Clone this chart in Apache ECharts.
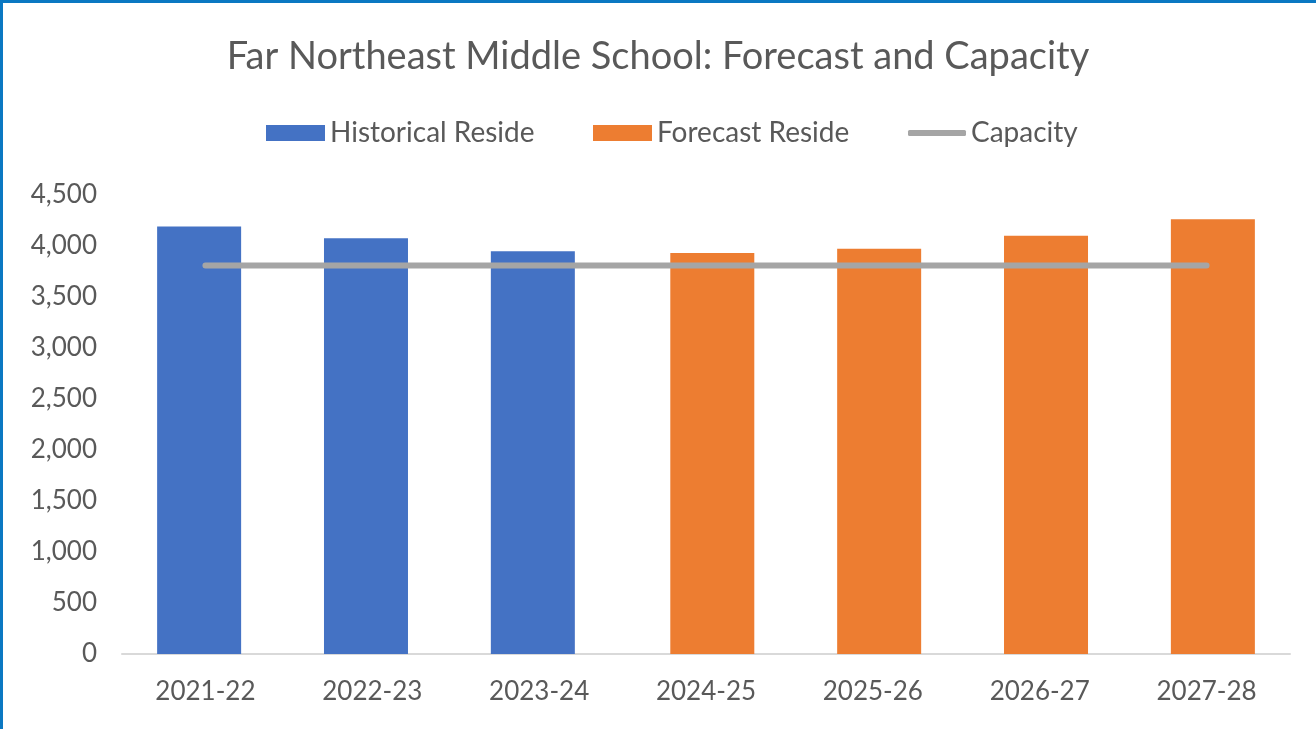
<!DOCTYPE html>
<html>
<head>
<meta charset="utf-8">
<script src="https://cdn.jsdelivr.net/npm/echarts@6/dist/echarts.min.js"></script>
<style>
html,body{margin:0;padding:0;background:#fff;}
#frame{position:absolute;left:0;top:0;width:1316px;height:729px;box-sizing:border-box;border-top:3px solid #0B78C2;border-left:3px solid #0B78C2;}
#chart{position:absolute;left:0;top:0;width:1316px;height:729px;}
</style>
</head>
<body>
<div id="chart"></div>
<div id="frame"></div>
<script>
const titleText = "Far Northeast Middle School: Forecast and Capacity";
const categories = ["2021-22","2022-23","2023-24","2024-25","2025-26","2026-27","2027-28"];
const historical = [4190, 4075, 3948, null, null, null, null];
const forecast = [null, null, null, 3931, 3974, 4101, 4262];
const capacity = [3808, 3808, 3808, 3808, 3808, 3808, 3808];
const yTicks = {min: 0, max: 4500, interval: 500};

const FONT = "Lato";
const TXT = "#595959";
const legendText = {fontFamily: FONT, fontSize: 28, color: TXT};
const chart = echarts.init(document.getElementById('chart'));
chart.setOption({
  animation: false,
  backgroundColor: '#fff',
  title: {
    text: titleText, left: 'center', top: 33,
    textStyle: {fontFamily: FONT, fontSize: 38, fontWeight: 'normal', color: TXT}
  },
  legend: [
    {left: 261, top: 114, itemWidth: 59, itemHeight: 16, itemGap: 0, textStyle: legendText,
     data: [{name: 'Historical Reside', icon: 'rect'}]},
    {left: 588, top: 114, itemWidth: 59, itemHeight: 16, itemGap: 0, textStyle: legendText,
     data: [{name: 'Forecast Reside', icon: 'rect'}]},
    {left: 903, top: 114, itemWidth: 58, itemHeight: 6, itemGap: 0, textStyle: legendText,
     data: [{name: 'Capacity', icon: 'roundRect', itemStyle: {color: '#A5A5A5'}}]}
  ],
  grid: {left: 122, right: 26, top: 195, bottom: 75, containLabel: false},
  xAxis: {
    type: 'category', data: categories, boundaryGap: true,
    axisLine: {lineStyle: {color: '#D9D9D9', width: 2}},
    axisTick: {show: false},
    axisLabel: {fontFamily: FONT, fontSize: 26, color: TXT, margin: 25}
  },
  yAxis: {
    type: 'value', min: yTicks.min, max: yTicks.max, interval: yTicks.interval,
    axisLine: {show: false}, axisTick: {show: false}, splitLine: {show: false},
    axisLabel: {fontFamily: FONT, fontSize: 26, color: TXT, margin: 25,
      formatter: v => v.toLocaleString('en-US')}
  },
  series: [
    {name: 'Historical Reside', type: 'bar', data: historical, barWidth: 84, barGap: '-85%',
     itemStyle: {color: '#4472C4'}},
    {name: 'Forecast Reside', type: 'bar', data: forecast, barWidth: 84, barGap: '-85%',
     itemStyle: {color: '#ED7D31'}},
    {name: 'Capacity', type: 'line', data: capacity, symbol: 'none', z: 5,
     lineStyle: {color: '#A5A5A5', width: 6, cap: 'round'}, itemStyle: {color: '#A5A5A5'}}
  ]
});
</script>
</body>
</html>
